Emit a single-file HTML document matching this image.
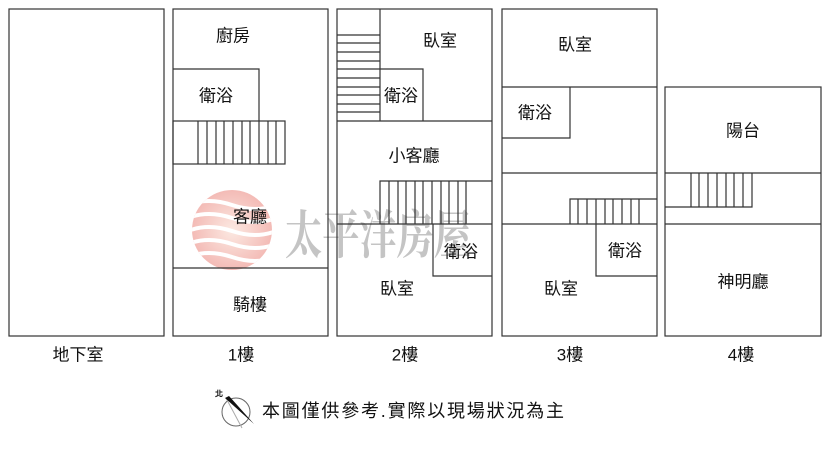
<!DOCTYPE html>
<html><head><meta charset="utf-8"><style>
body{margin:0;background:#fff}
svg{display:block}
text{font-family:"Liberation Sans","Noto Sans CJK TC",sans-serif;font-size:17px;fill:#111;text-anchor:middle;dominant-baseline:central}
</style></head><body>
<svg width="830" height="460" viewBox="0 0 830 460">
<defs>
<radialGradient id="g" cx="0.5" cy="0.5" r="0.5">
<stop offset="0" stop-color="#fbe0d6"/><stop offset="1" stop-color="#ef9f98"/>
</radialGradient>
<clipPath id="c"><circle cx="232" cy="230" r="40"/></clipPath>
</defs>
<g opacity="0.7">
<circle cx="232" cy="230" r="40" fill="url(#g)"/>
<g clip-path="url(#c)" stroke="#fff" stroke-width="4" fill="none">
<path d="M188 205 q20 -8 44 0 t44 0"/>
<path d="M188 218 q20 -8 44 0 t44 0"/>
<path d="M188 231 q20 -8 44 0 t44 0"/>
<path d="M188 244 q20 -8 44 0 t44 0"/>
<path d="M188 257 q20 -8 44 0 t44 0"/>
</g>
</g>
<text x="378" y="231" textLength="186" lengthAdjust="spacingAndGlyphs" style="font-family:'Noto Serif CJK SC',serif;font-size:52px;font-weight:bold;fill:#c4c4c4">太平洋房屋</text>

<g fill="none" stroke="#333" stroke-width="1.2">
<rect x="9" y="9" width="155" height="327"/>
<rect x="173" y="9" width="155" height="327"/>
<polyline points="173,69 259,69 259,121"/>
<rect x="173" y="121" width="112" height="43"/>
<line x1="173" y1="268" x2="328" y2="268"/>
<path d="M198 121v43M207 121v43M216 121v43M224 121v43M233 121v43M242 121v43M250 121v43M259 121v43M268 121v43M276 121v43"/>
<rect x="337" y="9" width="155" height="327"/>
<line x1="380" y1="9" x2="380" y2="121"/>
<path d="M337 35h43M337 43h43M337 52h43M337 61h43M337 69h43M337 78h43M337 87h43M337 95h43M337 104h43M337 112h43"/>
<polyline points="380,69 423,69 423,121"/>
<line x1="337" y1="121" x2="492" y2="121"/>
<polyline points="380,224 380,181 492,181"/>
<path d="M389 181v43M398 181v43M406 181v43M415 181v43M423 181v43M432 181v43M441 181v43M449 181v43M458 181v43M466 181v43"/>
<line x1="337" y1="224" x2="492" y2="224"/>
<polyline points="433,224 433,276 492,276"/>
<rect x="502" y="9" width="155" height="327"/>
<line x1="502" y1="87" x2="657" y2="87"/>
<polyline points="502,138 570,138 570,87"/>
<line x1="502" y1="173" x2="657" y2="173"/>
<polyline points="570,224 570,199 657,199"/>
<path d="M578 199v25M587 199v25M596 199v25M605 199v25M613 199v25M622 199v25M631 199v25M639 199v25"/>
<line x1="502" y1="224" x2="657" y2="224"/>
<polyline points="596,224 596,276 657,276"/>
<rect x="665" y="87" width="156" height="249"/>
<line x1="665" y1="173" x2="821" y2="173"/>
<line x1="665" y1="224" x2="821" y2="224"/>
<polyline points="665,207 752,207 752,173"/>
<path d="M691 173v34M699 173v34M708 173v34M717 173v34M726 173v34M734 173v34M743 173v34"/>
</g>

<text x="233" y="36">廚房</text>
<text x="216" y="96">衛浴</text>
<text x="250" y="217">客廳</text>
<text x="250" y="305">騎樓</text>
<text x="440" y="41">臥室</text>
<text x="401" y="96">衛浴</text>
<text x="414" y="156">小客廳</text>
<text x="461" y="252">衛浴</text>
<text x="397" y="289">臥室</text>
<text x="575" y="45">臥室</text>
<text x="535" y="113">衛浴</text>
<text x="625" y="251">衛浴</text>
<text x="561" y="289">臥室</text>
<text x="743" y="131">陽台</text>
<text x="743" y="282">神明廳</text>

<text x="78" y="355">地下室</text>
<text x="241" y="355">1樓</text>
<text x="405" y="355">2樓</text>
<text x="570" y="355">3樓</text>
<text x="741" y="355">4樓</text>

<circle cx="236" cy="412" r="14" fill="none" stroke="#666" stroke-width="1"/>
<line x1="226" y1="398" x2="242" y2="428" stroke="#aaa" stroke-width="1"/>
<polygon points="225,398 254,424 229,396" fill="#111"/>
<polygon points="229,396 254,424 236,404" fill="#111"/>
<text x="219" y="394" style="font-size:8px;font-weight:bold">北</text>
<text x="262" y="411" style="text-anchor:start;font-size:18px;letter-spacing:1.8px">本圖僅供參考.實際以現場狀況為主</text>
</svg>
</body></html>
